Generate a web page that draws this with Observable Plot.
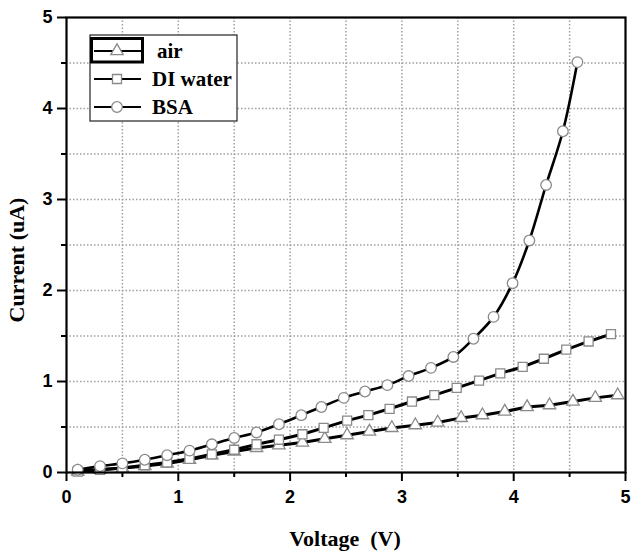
<!DOCTYPE html>
<html>
<head>
<meta charset="utf-8">
<script src="https://cdn.jsdelivr.net/npm/d3@7"></script>
<script src="https://cdn.jsdelivr.net/npm/@observablehq/plot@0.6"></script>
<style>
  html, body { margin: 0; padding: 0; background: #fff; }
</style>
</head>
<body>
<div id="chart"></div>
<script>
// ---- data ----
const airV = [0.1,0.3,0.5,0.7,0.9,1.1,1.3,1.5,1.7,1.9,2.11,2.31,2.51,2.71,2.91,3.12,3.32,3.53,3.72,3.92,4.12,4.32,4.53,4.73,4.93];
const airI = [0.01,0.03,0.05,0.07,0.10,0.14,0.19,0.23,0.27,0.30,0.33,0.37,0.41,0.45,0.49,0.52,0.55,0.60,0.63,0.67,0.72,0.74,0.78,0.82,0.85];
const waterV = [0.1,0.3,0.5,0.7,0.9,1.1,1.3,1.5,1.7,1.9,2.11,2.30,2.51,2.70,2.89,3.09,3.29,3.49,3.69,3.88,4.08,4.27,4.47,4.67,4.87];
const waterI = [0.01,0.03,0.05,0.08,0.11,0.15,0.20,0.25,0.31,0.36,0.42,0.49,0.57,0.63,0.70,0.78,0.85,0.93,1.01,1.09,1.16,1.25,1.35,1.44,1.52];
const bsaV = [0.1,0.3,0.5,0.7,0.9,1.1,1.3,1.5,1.7,1.9,2.1,2.28,2.48,2.67,2.87,3.06,3.26,3.46,3.64,3.82,3.99,4.14,4.29,4.44,4.57];
const bsaI = [0.03,0.07,0.10,0.14,0.19,0.24,0.31,0.38,0.44,0.53,0.63,0.72,0.82,0.89,0.96,1.06,1.15,1.27,1.47,1.71,2.08,2.55,3.16,3.75,4.51];
const seriesNames = ["air", "DI water", "BSA"];
const xTicks = [0, 1, 2, 3, 4, 5];
const yTicks = [0, 1, 2, 3, 4, 5];
const xLabel = "Voltage  (V)";
const yLabel = "Current (uA)";

const rows = (name, xs, ys) => xs.map((v, i) => ({series: name, V: v, I: ys[i]}));
const air = rows(seriesNames[0], airV, airI);
const water = rows(seriesNames[1], waterV, waterI);
const bsa = rows(seriesNames[2], bsaV, bsaI);

const minorX = d3.range(0.5, 5, 1);
const minorY = d3.range(0.5, 5, 1);
const gridVals = d3.range(0.5, 5, 0.5);

const markerStroke = "#8a8a8a";
const sans = "'Liberation Sans', Arial, sans-serif";

const plot = Plot.plot({
  width: 631,
  height: 553,
  marginLeft: 66,
  marginRight: 6,
  marginTop: 17,
  marginBottom: 81,
  x: {domain: [0, 5]},
  y: {domain: [0, 5]},
  marks: [
    Plot.ruleX(gridVals, {x: d => d, stroke: "#a0a0a0", strokeWidth: 1.5, strokeDasharray: "1.5,2"}),
    Plot.ruleY(gridVals, {y: d => d, stroke: "#a0a0a0", strokeWidth: 1.5, strokeDasharray: "1.5,2"}),
    Plot.axisX(xTicks, {tickSize: 9, tickPadding: 9, strokeWidth: 2, fontSize: 18, fontWeight: "bold", fontFamily: sans, tickFormat: "d", label: null}),
    Plot.axisX(minorX, {tickSize: 5, strokeWidth: 2, text: null, label: null}),
    Plot.axisY(yTicks, {tickSize: 9, tickPadding: 5, strokeWidth: 2, fontSize: 18, fontWeight: "bold", fontFamily: sans, tickFormat: "d", label: null}),
    Plot.axisY(minorY, {tickSize: 5, strokeWidth: 2, text: null, label: null}),
    Plot.line(air, {x: "V", y: "I", stroke: "#000", strokeWidth: 3}),
    Plot.line(water, {x: "V", y: "I", stroke: "#000", strokeWidth: 3}),
    Plot.line(bsa, {x: "V", y: "I", stroke: "#000", strokeWidth: 2.6, curve: "catmull-rom"}),
    Plot.dot(air, {x: "V", y: "I", symbol: "triangle", r: 4.6, fill: "#fff", stroke: markerStroke, strokeWidth: 1.3}),
    Plot.dot(water, {x: "V", y: "I", symbol: "square", r: 5.1, fill: "#fff", stroke: markerStroke, strokeWidth: 1.3}),
    Plot.dot(bsa, {x: "V", y: "I", symbol: "circle", r: 5.3, fill: "#fff", stroke: markerStroke, strokeWidth: 1.3}),
    Plot.frame({stroke: "#000", fill: "none", strokeWidth: 2.2})
  ]
});

const svg = d3.select(plot);
const serif = "'Liberation Serif', 'Times New Roman', serif";

// axis titles
svg.append("text")
  .attr("x", 345).attr("y", 546)
  .attr("text-anchor", "middle")
  .style("font", `bold 22px ${serif}`)
  .style("white-space", "pre")
  .attr("xml:space", "preserve")
  .text(xLabel);
svg.append("text")
  .attr("transform", "translate(24,260) rotate(-90)")
  .attr("text-anchor", "middle")
  .style("font", `bold 22px ${serif}`)
  .text(yLabel);

// legend
const lg = svg.append("g");
lg.append("rect").attr("x", 90).attr("y", 35).attr("width", 147).attr("height", 86)
  .attr("fill", "#fff").attr("stroke", "#222").attr("stroke-width", 1.2);
lg.append("rect").attr("x", 91.5).attr("y", 38.5).attr("width", 51).attr("height", 23.5)
  .attr("fill", "none").attr("stroke", "#000").attr("stroke-width", 3);
const legendRows = [
  {name: seriesNames[0], y: 51, sym: d3.symbolTriangle, r: 4.6, tx: 157},
  {name: seriesNames[1], y: 79, sym: d3.symbolSquare, r: 5.1, tx: 152},
  {name: seriesNames[2], y: 107, sym: d3.symbolCircle, r: 5.3, tx: 152}
];
legendRows.forEach(d => {
  lg.append("line").attr("x1", 94).attr("x2", 141).attr("y1", d.y).attr("y2", d.y)
    .attr("stroke", "#000").attr("stroke-width", 2.2);
  lg.append("path").attr("transform", `translate(117,${d.y})`)
    .attr("d", d3.symbol(d.sym, d.r * d.r * Math.PI)())
    .attr("fill", "#fff").attr("stroke", markerStroke).attr("stroke-width", 1.3);
  lg.append("text").attr("x", d.tx).attr("y", d.y + 7)
    .attr("text-anchor", "start")
    .style("font", `bold 21px ${serif}`).text(d.name);
});

document.getElementById("chart").appendChild(plot);
</script>
</body>
</html>
